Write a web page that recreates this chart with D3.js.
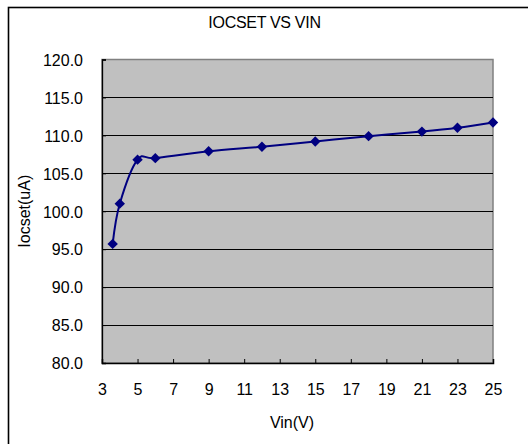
<!DOCTYPE html>
<html>
<head>
<meta charset="utf-8">
<script src="https://cdn.jsdelivr.net/npm/d3@7"></script>
<style>
  body { margin: 0; background: #fff; }
  text { font-family: "Liberation Sans", Arial, sans-serif; fill: #000; }
</style>
</head>
<body>
<div id="chart"></div>
<script>
"use strict"

// data
const vin = [3.6, 4, 5, 6, 9, 12, 15, 18, 21, 23, 25];
const iocset = [95.7, 101.0, 106.8, 107.0, 107.9, 108.5, 109.2, 109.9, 110.5, 111.0, 111.7];
const xTicks = [3, 5, 7, 9, 11, 13, 15, 17, 19, 21, 23, 25];
const yTicks = [80, 85, 90, 95, 100, 105, 110, 115, 120];

const title = "IOCSET VS VIN";
const xLabel = "Vin(V)";
const yLabel = "Iocset(uA)";

const W = 528, H = 444;
const plot = { left: 102, top: 59.5, right: 493, bottom: 363 };

const svg = d3.select("#chart").append("svg")
    .attr("width", W)
    .attr("height", H);

// outer chart border
svg.append("rect")
    .attr("x", 8.5).attr("y", 7.5)
    .attr("width", W + 20).attr("height", H + 20)
    .attr("fill", "#fff")
    .attr("stroke", "#000")
    .attr("stroke-width", 1.6);

const x = d3.scaleLinear().domain([3, 25]).range([plot.left, plot.right]);
const y = d3.scaleLinear().domain([80, 120]).range([plot.bottom, plot.top]);

// plot background
svg.append("rect")
    .attr("x", plot.left).attr("y", plot.top)
    .attr("width", plot.right - plot.left)
    .attr("height", plot.bottom - plot.top)
    .attr("fill", "#c0c0c0")
    .attr("stroke", "#808080")
    .attr("stroke-width", 1.5);

// gridlines
svg.append("g")
    .selectAll("line")
    .data(yTicks.filter(d => d > 80 && d < 120))
    .enter().append("line")
        .attr("x1", plot.left).attr("x2", plot.right)
        .attr("y1", d => Math.round(y(d)) + 0.5)
        .attr("y2", d => Math.round(y(d)) + 0.5)
        .attr("stroke", "#000")
        .attr("stroke-width", 1);

// y axis
const yAxis = svg.append("g")
    .attr("transform", `translate(${plot.left},0)`)
    .call(d3.axisLeft(y).tickValues(yTicks).tickFormat(d3.format(".1f")).tickSize(-4).tickPadding(19));
yAxis.select(".domain").attr("stroke", "#000").attr("stroke-width", 1.3);
yAxis.selectAll("text").attr("font-size", 16).attr("dy", "0.36em");

// x axis
const xAxis = svg.append("g")
    .attr("transform", `translate(0,${plot.bottom})`)
    .call(d3.axisBottom(x).tickValues(xTicks).tickSize(-4).tickPadding(21));
xAxis.select(".domain").attr("stroke", "#000").attr("stroke-width", 1.5);
xAxis.selectAll("text").attr("font-size", 16);

// title and axis labels
svg.append("text")
    .attr("x", 264.5).attr("y", 28)
    .attr("text-anchor", "middle")
    .attr("font-size", 16)
    .attr("letter-spacing", -0.3)
    .text(title);

svg.append("text")
    .attr("x", 292).attr("y", 428)
    .attr("text-anchor", "middle")
    .attr("font-size", 16)
    .text(xLabel);

svg.append("text")
    .attr("transform", `translate(30,${(plot.top + plot.bottom) / 2}) rotate(-90)`)
    .attr("text-anchor", "middle")
    .attr("font-size", 16)
    .text(yLabel);

// smoothed series line
const pts = vin.map((v, i) => [v, iocset[i]]);
const line = d3.line()
    .x(d => x(d[0]))
    .y(d => y(d[1]))
    .curve(d3.curveCardinal.tension(0));

svg.append("path")
    .datum(pts)
    .attr("d", line)
    .attr("fill", "none")
    .attr("stroke", "#000080")
    .attr("stroke-width", 2);

// diamond markers
const diamond = "M0,-5.2L5.2,0L0,5.2L-5.2,0Z";
svg.append("g")
    .selectAll("path")
    .data(pts)
    .enter().append("path")
        .attr("transform", d => `translate(${x(d[0])},${y(d[1])})`)
        .attr("d", diamond)
        .attr("fill", "#000080");
</script>
</body>
</html>
